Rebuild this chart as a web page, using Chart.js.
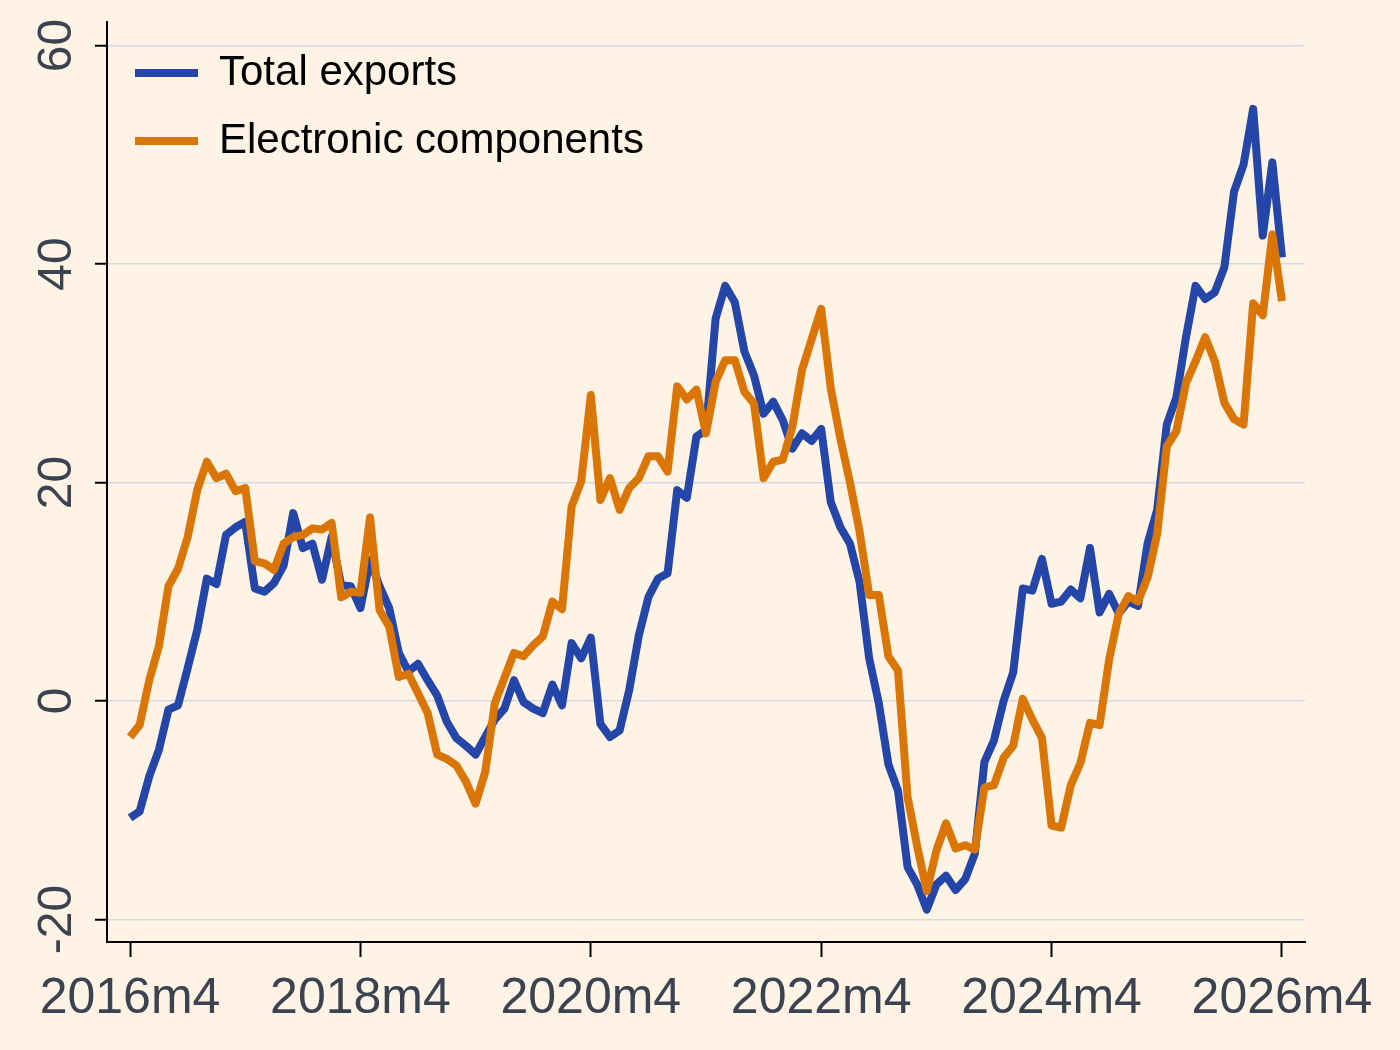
<!DOCTYPE html>
<html>
<head>
<meta charset="utf-8">
<script src="https://cdn.jsdelivr.net/npm/chart.js@4/dist/chart.umd.min.js"></script>
<style>
  html, body { margin: 0; padding: 0; background: #fef3e5; }
  #wrap { width: 1400px; height: 1050px; }
</style>
</head>
<body>
<div id="wrap"><canvas id="chart" width="1400" height="1050"></canvas></div>
<script>
// monthly, 2016m4 .. 2026m4 (index 0 = 2016m4)
const startYear = 2016;
const startMonth = 4;
const months = [];
for (let i = 0; i < 121; i++) {
  const m = startMonth - 1 + i;
  months.push((startYear + Math.floor(m / 12)) + 'm' + (m % 12 + 1));
}

const totalExports = [
  -10.7, -10.1, -6.9, -4.5, -0.8, -0.4, 3.0, 6.5, 11.2, 10.7,
  15.2, 15.9, 16.4, 10.3, 10.0, 10.8, 12.4, 17.2, 14.0, 14.4,
  11.1, 15.0, 10.6, 10.5, 8.5, 12.9, 10.5, 8.5, 4.4, 2.7,
  3.4, 1.9, 0.5, -1.9, -3.4, -4.1, -4.9, -3.3, -1.7, -0.7,
  1.9, -0.1, -0.7, -1.1, 1.5, -0.4, 5.3, 3.9, 5.8, -2.1,
  -3.3, -2.7, 1.0, 6.0, 9.5, 11.2, 11.7, 19.3, 18.6, 24.2,
  24.8, 35.0, 38.0, 36.5, 32.0, 29.8, 26.3, 27.4, 25.7, 23.1,
  24.5, 23.8, 24.9, 18.2, 15.9, 14.4, 10.9, 3.9, -0.2, -5.8,
  -8.2, -15.2, -16.8, -19.1, -16.8, -16.0, -17.3, -16.3, -14.0, -5.6,
  -3.6, 0.0, 2.6, 10.3, 10.1, 13.0, 8.9, 9.1, 10.2, 9.4,
  14.0, 8.1, 9.8, 8.0, 9.1, 8.7, 14.4, 17.5, 25.3, 27.8,
  33.3, 38.0, 36.8, 37.4, 39.7, 46.6, 49.1, 54.2, 42.6, 49.3,
  40.6
];

const electronicComponents = [
  -3.3, -2.2, 1.9, 5.0, 10.5, 12.1, 15.0, 19.3, 21.9, 20.4,
  20.8, 19.2, 19.5, 12.8, 12.6, 12.0, 14.4, 15.0, 15.2, 15.8,
  15.7, 16.3, 9.5, 10.0, 9.9, 16.8, 8.3, 6.8, 2.2, 2.5,
  0.7, -1.1, -4.9, -5.3, -5.9, -7.4, -9.4, -6.5, -0.2, 2.1,
  4.4, 4.1, 5.1, 5.9, 9.1, 8.4, 17.8, 20.1, 28.0, 18.4,
  20.4, 17.5, 19.5, 20.4, 22.4, 22.4, 21.0, 28.8, 27.6, 28.5,
  24.5, 29.2, 31.2, 31.2, 28.3, 27.2, 20.4, 21.9, 22.1, 25.1,
  30.3, 33.1, 35.9, 28.6, 24.0, 20.0, 15.5, 9.7, 9.7, 4.1,
  2.8, -8.8, -13.3, -17.4, -13.7, -11.2, -13.5, -13.2, -13.6, -7.9,
  -7.7, -5.2, -4.1, 0.2, -1.7, -3.4, -11.4, -11.6, -7.7, -5.7,
  -2.0, -2.2, 3.8, 8.0, 9.6, 9.1, 11.3, 15.3, 23.3, 24.7,
  29.1, 31.1, 33.3, 31.1, 27.3, 25.8, 25.3, 36.4, 35.3, 42.7,
  36.6
];

const xTickLabels = ['2016m4', '2018m4', '2020m4', '2022m4', '2024m4', '2026m4'];
const yTicks = [-20, 0, 20, 40, 60];

const bgColor = '#fef3e5';
const blue = '#2446a8';
const orange = '#da7608';
const gridColor = '#d6d9e2';
const tickTextColor = '#3b4351';
const fontFamily = '"Liberation Sans", Arial, sans-serif';

const toPoints = arr => arr.map((v, i) => ({ x: i, y: v }));
const xTickValues = xTickLabels.map(l => months.indexOf(l));

const background = {
  id: 'background',
  beforeDraw(chart) {
    const ctx = chart.ctx;
    ctx.save();
    ctx.fillStyle = bgColor;
    ctx.fillRect(0, 0, chart.width, chart.height);
    ctx.restore();
  }
};

// nudge the legend into the plot region like the original
const legendShift = {
  id: 'legendShift',
  afterLayout(chart) {
    const lg = chart.legend;
    if (!lg) return;
    lg.left += 2; lg.right += 2;
    lg.top += 26; lg.bottom += 26;
  }
};

new Chart(document.getElementById('chart'), {
  type: 'line',
  data: {
    datasets: [
      {
        label: 'Total exports',
        data: toPoints(totalExports),
        borderColor: blue,
        backgroundColor: blue,
        borderWidth: 8,
        order: 1
      },
      {
        label: 'Electronic components',
        data: toPoints(electronicComponents),
        borderColor: orange,
        backgroundColor: orange,
        borderWidth: 8,
        order: 0
      }
    ]
  },
  options: {
    responsive: false,
    animation: false,
    devicePixelRatio: 1,
    layout: { padding: { top: 22, right: 95, left: 0, bottom: 0 } },
    elements: {
      point: { radius: 0 },
      line: { tension: 0, borderJoinStyle: 'round' }
    },
    plugins: {
      tooltip: { enabled: false },
      legend: {
        position: 'chartArea',
        align: 'start',
        labels: {
          boxWidth: 63,
          boxHeight: 8,
          padding: 26,
          color: '#000',
          font: { family: fontFamily, size: 42 },
          sort: (a, b) => a.datasetIndex - b.datasetIndex,
          generateLabels: chart =>
            Chart.defaults.plugins.legend.labels.generateLabels(chart)
              .map(l => ({ ...l, lineWidth: 0 }))
        }
      }
    },
    scales: {
      x: {
        type: 'linear',
        min: -2.4,
        max: 122.4,
        afterBuildTicks: scale => { scale.ticks = xTickValues.map(v => ({ value: v })); },
        afterFit: scale => { scale.height = 108; },
        ticks: {
          callback: v => months[v],
          color: tickTextColor,
          font: { family: fontFamily, size: 50 },
          padding: 12,
          maxRotation: 0,
          autoSkip: false
        },
        grid: {
          drawOnChartArea: false,
          tickLength: 15,
          tickWidth: 2,
          tickColor: '#000'
        },
        border: { color: '#000', width: 2 }
      },
      y: {
        min: -22.06,
        max: 62.15,
        afterBuildTicks: scale => { scale.ticks = yTicks.map(v => ({ value: v })); },
        afterFit: scale => {
          scale.width = 107;
          scale.paddingTop = 0;
          scale.paddingBottom = 0;
        },
        ticks: {
          color: tickTextColor,
          font: { family: fontFamily, size: 48 },
          minRotation: 90,
          maxRotation: 90,
          crossAlign: 'center',
          padding: 3
        },
        grid: {
          color: gridColor,
          lineWidth: 1.5,
          tickLength: 12,
          tickWidth: 2,
          tickColor: '#000'
        },
        border: { color: '#000', width: 2 }
      }
    }
  },
  plugins: [background, legendShift]
});
</script>
</body>
</html>
